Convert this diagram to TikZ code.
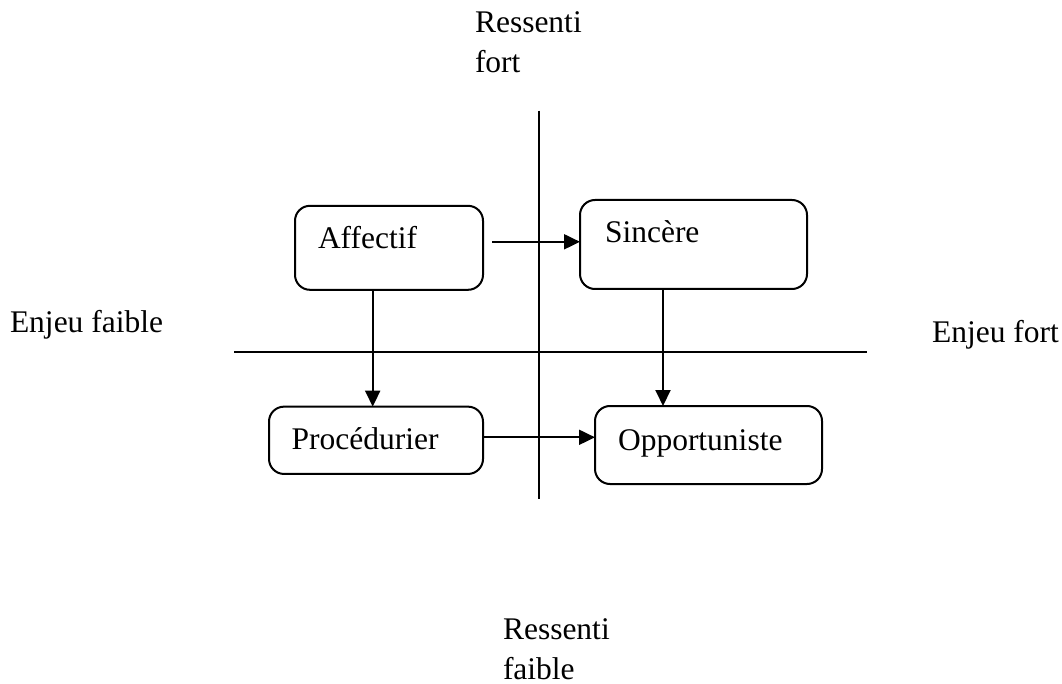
\documentclass[tikz,border=0pt]{standalone}
\usepackage{fontspec}
\setmainfont{Liberation Serif}
\usetikzlibrary{arrows.meta}
\begin{document}
\begin{tikzpicture}[x=1pt,y=-1pt,
  every node/.style={inner sep=0pt,outer sep=0pt,font=\fontsize{31.5}{40}\selectfont},
  card/.style={draw,line width=2pt,rounded corners=15pt,rectangle},
  lbl/.style={anchor=base west},
  axis/.style={line width=2pt},
  arr/.style={line width=2pt,-{Triangle[length=16pt,width=15pt]}}]
\useasboundingbox (0,0) rectangle (1062,684);

% axes
\coordinate (vtop) at (539.3,110.7);
\coordinate (vbot) at (539.3,499);
\coordinate (hl) at (234,352);
\coordinate (hr) at (867,352);
\draw[axis] (vtop) -- (vbot);
\draw[axis] (hl) -- (hr);

% boxes
\node[card,minimum width=188pt,minimum height=84pt] (A) at (389,247.8) {};
\node[card,minimum width=227pt,minimum height=89pt] (S) at (693.5,244.5) {};
\node[card,minimum width=214pt,minimum height=67.3pt] (P) at (376,440.3) {};
\node[card,minimum width=227pt,minimum height=78pt] (O) at (708.5,445) {};

% box texts
\node[lbl] (tA) at (318,249) {Affectif};
\node[lbl] (tS) at (605,243) {Sincère};
\node[lbl] (tP) at (291.7,449) {Procédurier};
\node[lbl] (tO) at (618,450) {Opportuniste};

% axis labels
\node[lbl] (rf1) at (475,33) {Ressenti};
\node[lbl] (rf2) at (475,73) {fort};
\node[lbl] (ef) at (10,332) {Enjeu faible};
\node[lbl] (eF) at (932,342) {Enjeu fort};
\node[lbl] (rb1) at (503,639) {Ressenti};
\node[lbl] (rb2) at (503,679) {faible};

% arrows
\draw[arr] ([shift={(9,-6)}]A.east) -- ([shift={(0,-6)}]A.east -| S.west);
\draw[arr] ([xshift=-16.3pt]A.south) -- ([xshift=-16.3pt]A.south |- P.north);
\draw[arr] ([xshift=-30.5pt]S.south) -- ([xshift=-30.5pt]S.south |- O.north);
\draw[arr] ([shift={(0,-3)}]P.east) -- ([shift={(0,-3)}]P.east -| O.west);
\end{tikzpicture}
\end{document}
